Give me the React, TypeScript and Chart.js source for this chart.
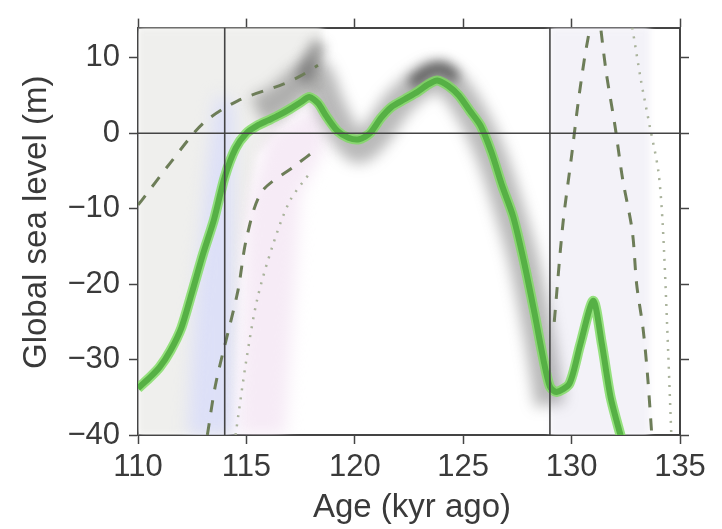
import React, { useEffect, useRef } from 'react';
import { Chart, registerables } from 'chart.js';

// ---- data ----
const xTickValues = [110, 115, 120, 125, 130, 135];
const xTickLabels = ['110', '115', '120', '125', '130', '135'];
const yTickValues = [-40, -30, -20, -10, 0, 10];
const yTickLabels = ['\u221240', '\u221230', '\u221220', '\u221210', '0', '10'];
const xTitle = 'Age (kyr ago)';
const yTitle = 'Global sea level (m)';

// main (green) sea-level curve
const greenAge = [110, 110.5, 111, 111.5, 112, 112.5, 113, 113.5, 114, 114.5, 115, 115.5, 116, 116.5, 117, 117.5, 117.9, 118.3, 118.7, 119.2, 119.7, 120.2, 120.7, 121.2, 121.7, 122.3, 122.9, 123.4, 123.8, 124.3, 124.8, 125.3, 125.8, 126.3, 126.8, 127.3, 127.8, 128.3, 128.7, 129.0, 129.3, 129.9, 130.4, 131.0, 131.4, 131.8, 132.3];
const greenLevel = [-33.8, -32.5, -31, -28.8, -25.8, -21, -16, -11.5, -5.8, -2, 0, 1, 1.7, 2.4, 3.2, 4.1, 4.8, 4, 2.2, 0.3, -0.6, -0.8, 0, 2, 3.5, 4.5, 5.5, 6.5, 7, 6.3, 5, 3, 1, -2.5, -7, -11, -17, -24, -30, -33.6, -34.3, -33.2, -28, -22.2, -28, -35, -40.5];

// grey probability band around the curve
const bandAge = [115.5, 116.5, 117.5, 118.2, 118.8, 119.5, 120.2, 121, 122, 123, 123.8, 124.6, 125.5, 126.3, 127, 127.8, 128.5, 129];
const bandLevel = [3, 4.5, 7, 8, 4, 0, -2, 0, 4, 6.5, 7.5, 6, 2, -3, -9, -17, -27, -36];
const coreAge = [122.6, 123.4, 124.1, 124.7];
const coreLevel = [6.5, 8.3, 8.6, 7.2];
const smudgeAge = [117.6, 118.0, 118.4];
const smudgeLevel = [7, 10, 12];

// dashed envelopes
const dashUpperAge = [110, 110.2, 111.5, 113, 114.6, 116.7, 117.5, 118.3];
const dashUpperLevel = [-9.5, -8.8, -3.9, 1.3, 4.3, 6.5, 7.6, 9];
const dashLowerAge = [113.2, 113.6, 114.6, 115, 115.7, 117.2, 118.3];
const dashLowerLevel = [-40, -33, -21, -14, -7.8, -4.4, -2];
const dashRightAge = [129.2, 129.6, 130.0, 130.3, 130.6, 130.9, 131.1, 131.3, 131.6, 132.0, 132.35, 132.8, 133.0, 133.3, 133.5, 133.7];
const dashRightLevel = [-25, -12, -3, 4, 10, 15, 20, 15, 8, 1, -6, -13, -20, -26, -32, -40];

// dotted envelopes
const dotLeftAge = [114.5, 115.0, 115.5, 116.2, 117, 118];
const dotLeftLevel = [-40, -30, -22, -15, -9, -5];
const dotRightAge = [132.8, 133.2, 133.6, 134.0, 134.2, 134.4, 134.6];
const dotRightLevel = [14, 7, 1, -5, -12, -25, -40];

// background shaded regions (closed shapes)
const shadeLeftAge = [110, 118.5, 118.5, 117, 115.5, 114.8, 114.3, 110, 110];
const shadeLeftLevel = [14, 14, 6, 2, -3, -15, -40, -40, 14];
const shadeBlueAge = [112.3, 114.4, 114.4, 113.6, 113.1, 112.6, 112.3];
const shadeBlueLevel = [-40, -40, 4, 5, -8, -24, -40];
const shadePinkAge = [114.6, 116.8, 117.5, 118.6, 118.6, 116, 115, 114.6];
const shadePinkLevel = [-40, -40, -8, -2, 4, 0, -10, -40];
const shadeRightAge = [129, 133.6, 133.6, 129, 129];
const shadeRightLevel = [14, 14, -40, -40, 14];

// reference lines
const zeroAge = [110, 135];
const zeroLevel = [0, 0];
const vLine1Age = [114, 114];
const vLine2Age = [129, 129];
const vLineLevel = [-40, 14];

const zip = (xs: number[], ys: number[]) => xs.map((x, i) => ({ x, y: ys[i] }));

const FONT = "'Liberation Sans', Arial, Helvetica, sans-serif";
const TXT = '#3a3a3a';
const AX = '#444444';

const blurPlugin = {
  id: 'blurPlugin',
  beforeDatasetDraw(chart: any, args: any) {
    const ds: any = chart.data.datasets[args.index];
    chart.ctx.save();
    if (ds.blur) chart.ctx.filter = `blur(${ds.blur}px)`;
  },
  afterDatasetDraw(chart: any) {
    chart.ctx.restore();
  },
};

const axisTitlePlugin = {
  id: 'axisTitlePlugin',
  afterDraw(chart: any) {
    const { ctx, chartArea } = chart;
    ctx.save();
    ctx.fillStyle = TXT;
    ctx.font = `33px ${FONT}`;
    ctx.textAlign = 'center';
    ctx.textBaseline = 'middle';
    ctx.fillText(xTitle, (chartArea.left + chartArea.right) / 2 + 3, 508);
    ctx.translate(37, (chartArea.top + chartArea.bottom) / 2 - 9);
    ctx.rotate(-Math.PI / 2);
    ctx.fillText(yTitle, 0, 0);
    ctx.restore();
  },
};

Chart.register(blurPlugin);
Chart.register(...registerables);

export default function App() {
  const ref = useRef<HTMLCanvasElement>(null);
  useEffect(() => {
    if (!ref.current) return;
    const line = (data: any, o: any) => ({
      data,
      pointRadius: 0,
      fill: false,
      tension: 0,
      ...o,
    });
    const shade = (xs: number[], ys: number[], color: string, order: number, blur: number) =>
      line(zip(xs, ys), { fill: 'shape', backgroundColor: color, borderWidth: 0, borderColor: 'rgba(0,0,0,0)', order, blur });

    const datasets: any[] = [
      line(zip(zeroAge, zeroLevel), { borderColor: AX, borderWidth: 1.6, order: 1 }),
      line(zip(vLine1Age, vLineLevel), { borderColor: AX, borderWidth: 1.6, order: 1 }),
      line(zip(vLine2Age, vLineLevel), { borderColor: AX, borderWidth: 1.6, order: 1 }),
      line(zip(greenAge, greenLevel), { borderColor: '#56b045', borderWidth: 6, tension: 0.25, order: 2 }),
      line(zip(greenAge, greenLevel), { borderColor: 'rgba(125,220,95,0.8)', borderWidth: 10, tension: 0.25, order: 3 }),
      line(zip(dashUpperAge, dashUpperLevel), { borderColor: '#6d7d58', borderWidth: 3, borderDash: [12, 11], tension: 0.3, order: 4 }),
      line(zip(dashLowerAge, dashLowerLevel), { borderColor: '#6d7d58', borderWidth: 3, borderDash: [12, 11], tension: 0.3, order: 4 }),
      line(zip(dashRightAge, dashRightLevel), { borderColor: '#6d7d58', borderWidth: 3, borderDash: [12, 11], tension: 0.3, order: 4 }),
      line(zip(dotLeftAge, dotLeftLevel), { borderColor: '#aab39c', borderWidth: 2.5, borderDash: [2, 7], tension: 0.3, order: 4 }),
      line(zip(dotRightAge, dotRightLevel), { borderColor: '#aab39c', borderWidth: 2.5, borderDash: [2, 7], tension: 0.3, order: 4 }),
      line(zip(coreAge, coreLevel), { borderColor: 'rgba(0,0,0,0.55)', borderWidth: 12, tension: 0.3, blur: 6, order: 5 }),
      line(zip(smudgeAge, smudgeLevel), { borderColor: 'rgba(70,70,70,0.45)', borderWidth: 16, tension: 0.3, blur: 6, order: 6 }),
      line(zip(bandAge, bandLevel), { borderColor: 'rgba(80,80,80,0.4)', borderWidth: 30, tension: 0.3, blur: 7, order: 6 }),
      shade(shadePinkAge, shadePinkLevel, 'rgba(244,230,244,0.8)', 7, 8),
      shade(shadeBlueAge, shadeBlueLevel, 'rgba(218,222,248,0.9)', 8, 8),
      shade(shadeLeftAge, shadeLeftLevel, '#efefed', 9, 3),
      shade(shadeRightAge, shadeRightLevel, '#f3f2f8', 9, 3),
    ];

    const tickFont = { family: FONT, size: 31 };
    const grid = { drawOnChartArea: false, color: AX, tickLength: 9, tickWidth: 1.5, drawTicks: true };
    const border = { display: true, color: AX, width: 2 };

    const chart = new Chart(ref.current, {
      type: 'line',
      data: { datasets },
      plugins: [axisTitlePlugin],
      options: {
        animation: false,
        responsive: false,
        events: [],
        layout: { padding: 0 },
        plugins: { legend: { display: false }, tooltip: { enabled: false } },
        scales: {
          x: {
            type: 'linear', position: 'bottom', min: 110, max: 135,
            afterBuildTicks: (s: any) => { s.ticks = xTickValues.map((v) => ({ value: v })); },
            afterFit: (s: any) => { s.height = 94; },
            ticks: { font: tickFont, color: TXT, padding: 5, maxRotation: 0, autoSkip: false,
              callback: (_v: any, i: number) => xTickLabels[i] },
            grid, border,
          },
          x2: {
            type: 'linear', position: 'top', min: 110, max: 135,
            afterBuildTicks: (s: any) => { s.ticks = xTickValues.map((v) => ({ value: v })); },
            afterFit: (s: any) => { s.height = 20; },
            ticks: { display: false },
            grid, border,
          },
          y: {
            type: 'linear', position: 'left', min: -40, max: 14,
            afterBuildTicks: (s: any) => { s.ticks = yTickValues.map((v) => ({ value: v })); },
            afterFit: (s: any) => { s.width = 138; },
            ticks: { font: tickFont, color: TXT, padding: 9,
              callback: (_v: any, i: number) => yTickLabels[i] },
            grid, border,
          },
          y2: {
            type: 'linear', position: 'right', min: -40, max: 14,
            afterBuildTicks: (s: any) => { s.ticks = yTickValues.map((v) => ({ value: v })); },
            afterFit: (s: any) => { s.width = 42; },
            ticks: { display: false },
            grid, border,
          },
        },
      } as any,
    });
    return () => chart.destroy();
  }, []);

  return (
    <div style={{ position: 'absolute', left: 0, top: 0, width: 722, height: 529, background: '#fff' }}>
      <canvas ref={ref} width={722} height={529} style={{ display: 'block' }} />
    </div>
  );
}
